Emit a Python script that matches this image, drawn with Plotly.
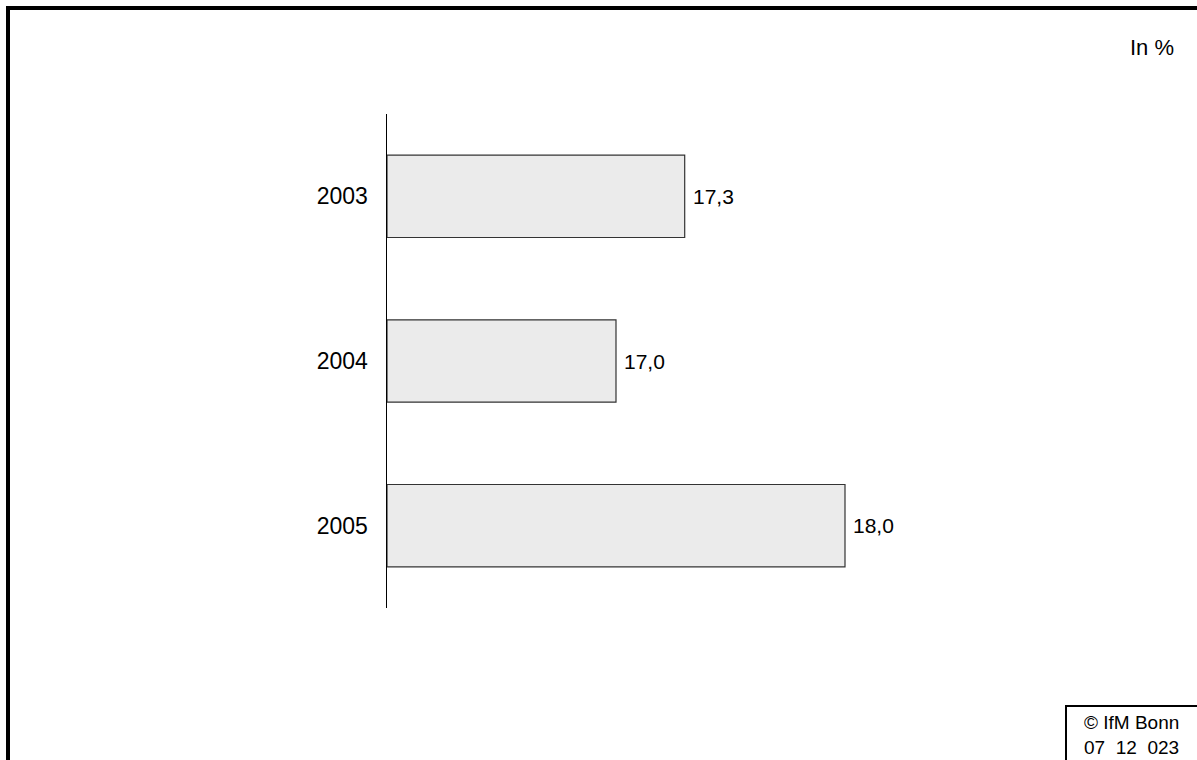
import plotly.graph_objects as go

years = ["2003", "2004", "2005"]
values = [17.3, 17.0, 18.0]
value_labels = ["17,3", "17,0", "18,0"]
unit_label = "In %"
source_lines = ["© IfM Bonn", "07\u00a0\u00a012\u00a0\u00a0023"]
base = 16.0

W, H = 1197, 760
L, R, T, B = 387, 123, 114, 152
PW, PH = W - L - R, H - T - B


def px2x(px):
    return (px - L) / PW


def py2y(py):
    return (H - B - py) / PH


FONT = "Liberation Sans, Arial, sans-serif"
cat_order = years[::-1]

fig = go.Figure()
fig.add_trace(go.Bar(
    y=years,
    x=[v - base for v in values],
    base=base,
    orientation="h",
    width=0.5,
    marker=dict(color="#ebebeb", line=dict(color="#333333", width=1.2)),
    hoverinfo="skip",
))

annotations = []
for yr, v, lab in zip(years, values, value_labels):
    annotations.append(dict(
        x=v, y=cat_order.index(yr), xref="x", yref="y", text=lab, showarrow=False,
        xanchor="left", yanchor="middle", xshift=6,
        font=dict(family=FONT, size=21, color="#000000"),
    ))

annotations.append(dict(
    x=px2x(1176), y=py2y(47), xref="paper", yref="paper", text=unit_label,
    showarrow=False, xanchor="right", yanchor="middle",
    font=dict(family=FONT, size=22, color="#000000"),
))
for i, line in enumerate(source_lines):
    annotations.append(dict(
        x=px2x(1082), y=py2y(722 + 25 * i), xref="paper", yref="paper",
        text=line, showarrow=False, xanchor="left", yanchor="middle",
        font=dict(family=FONT, size=19, color="#000000"),
    ))

shapes = [
    dict(type="rect", xref="paper", yref="paper",
         x0=px2x(8), y0=py2y(8), x1=px2x(1210), y1=py2y(775),
         line=dict(color="#000000", width=4), fillcolor="rgba(0,0,0,0)", layer="above"),
    dict(type="rect", xref="paper", yref="paper",
         x0=px2x(1066), y0=py2y(706), x1=px2x(1215), y1=py2y(775),
         line=dict(color="#000000", width=2), fillcolor="rgba(0,0,0,0)", layer="above"),
]

fig.update_layout(
    width=W, height=H,
    margin=dict(l=L, r=R, t=T, b=B, pad=0),
    paper_bgcolor="#ffffff", plot_bgcolor="#ffffff",
    showlegend=False,
    annotations=annotations,
    shapes=shapes,
    bargap=0.5,
)
fig.update_xaxes(range=[base, base + PW / 229.0], visible=False, fixedrange=True)
fig.update_yaxes(
    type="category",
    categoryorder="array", categoryarray=cat_order,
    range=[-0.5, 2.5],
    showline=True, linecolor="#000000", linewidth=1.5,
    showgrid=False, zeroline=False, ticks="",
    ticklabelstandoff=13,
    tickfont=dict(family=FONT, size=23, color="#000000"),
    fixedrange=True,
)

fig.write_html(
    "out.html",
    config={"displayModeBar": False, "staticPlot": True},
    post_script="document.body.style.margin='0';document.body.style.overflow='hidden';",
)
